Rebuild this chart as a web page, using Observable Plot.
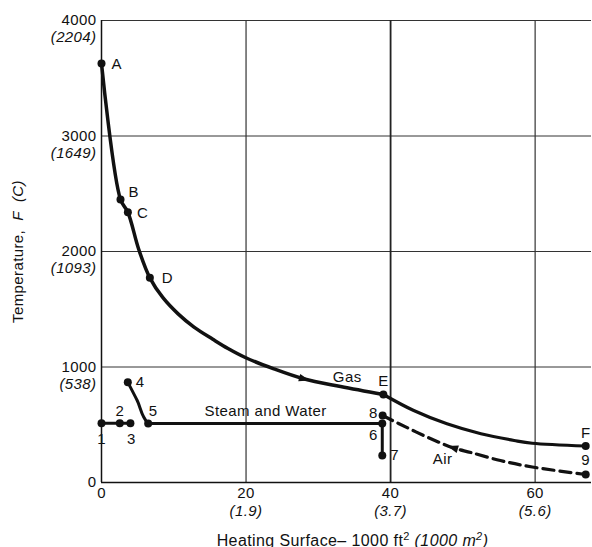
<!DOCTYPE html>
<html><head><meta charset="utf-8">
<script src="https://cdn.jsdelivr.net/npm/d3@7"></script>
<script src="https://cdn.jsdelivr.net/npm/@observablehq/plot@0.6"></script>
<style>body{margin:0;background:#fff}</style>
</head><body><div id="chart"></div>
<script>
// ---- data ----
const gasX1 = [0, 2.63, 3.65, 5.16, 6.69, 8.5, 10.6, 12.8, 15.4, 17.5, 19.97, 23.85, 27.96, 33.08, 39.0];
const gasY1 = [3628, 2450, 2340, 2017, 1772, 1600, 1460, 1345, 1240, 1160, 1080, 984, 898, 831, 762];
const gasX2 = [39.0, 43.2, 47.8, 52.5, 57.1, 59.6, 67.0];
const gasY2 = [762, 623, 508, 422, 364, 340, 316];
const airX = [38.9, 41.1, 45.5, 48.7, 51.1, 55.2, 59.6, 67.0];
const airY = [580, 511, 381, 299, 260, 190, 134, 69];
const feedX = [0, 2.53, 4.0];
const feedY = [513, 513, 513];
const steamX = [3.64, 4.94, 6.46, 38.85];
const steamY = [868, 710, 511, 511];
const dropX = [38.85, 38.85];
const dropY = [511, 234];
const pointNames = ["A","B","C","D","E","F","1","2","3","4","5","6","7","8","9"];
const pointX = [0, 2.63, 3.65, 6.69, 39.0, 67.0, 0, 2.53, 4.0, 3.64, 6.46, 38.85, 38.85, 38.9, 67.0];
const pointY = [3628, 2450, 2340, 1772, 762, 316, 513, 513, 513, 868, 511, 511, 234, 580, 69];
const streamNames = ["Gas", "Steam and Water", "Air"];
const streamX = [34.0, 22.7, 47.2];
const streamY = [909, 615, 205];
const arrowX = [27.96, 48.7];
const arrowY = [898, 299];
const arrowAngle = [105, -73];
const yTicksF = [0, 1000, 2000, 3000, 4000];
const yTickLabelsF = ["0", "1000", "2000", "3000", "4000"];
const yTicksC = [1000, 2000, 3000, 4000];
const yTickLabelsC = ["(538)", "(1093)", "(1649)", "(2204)"];
const xTicks = [0, 20, 40, 60];
const xTickLabelsFt = ["0", "20", "40", "60"];
const xTicksM = [20, 40, 60];
const xTickLabelsM = ["(1.9)", "(3.7)", "(5.6)"];

// ---- label placement (style) ----
const place = {
  A: [10, 1, "start"], B: [8, -7, "start"], C: [9, 1, "start"], D: [12, 0, "start"],
  E: [0, -13, "middle"], F: [0, -13, "middle"],
  "1": [0, 16, "middle"], "2": [0, -12, "middle"], "3": [1, 16, "middle"],
  "4": [8, 0, "start"], "5": [5, -12, "middle"], "6": [-9, 12, "middle"],
  "7": [8, 0, "start"], "8": [-5, -2, "end"], "9": [0, -14, "middle"]
};

const idx = a => d3.range(a.length);
const ink = "#111";
const arrowHead = {
  draw(ctx, size) {
    const r = Math.sqrt(size / Math.PI);
    ctx.moveTo(0, -r * 1.4);
    ctx.lineTo(r * 0.85, r * 1.0);
    ctx.lineTo(-r * 0.85, r * 1.0);
    ctx.closePath();
  }
};

const chart = Plot.plot({
  width: 592, height: 547,
  marginLeft: 101, marginRight: 1, marginTop: 20, marginBottom: 65,
  x: {domain: [0, 67.8], axis: null},
  y: {domain: [0, 4000], axis: null},
  style: {fontFamily: "'Liberation Sans', Arial, sans-serif", fontSize: "15px", letterSpacing: "0.4px", background: "#fff", color: ink},
  marks: [
    Plot.ruleY([1000, 2000, 3000, 4000], {stroke: "#333", strokeWidth: 1}),
    Plot.ruleX([20, 60], {stroke: "#333", strokeWidth: 1.2, y1: 0, y2: 4000}),
    Plot.ruleX([40], {stroke: "#222", strokeWidth: 1.8, y1: 0, y2: 4000}),
    Plot.ruleX([0], {stroke: ink, strokeWidth: 1.5, y1: 0, y2: 4000}),
    Plot.ruleY([0], {stroke: ink, strokeWidth: 1.5}),
    // curves
    Plot.line(idx(gasX1), {x: gasX1, y: gasY1, curve: "catmull-rom", stroke: ink, strokeWidth: 3.5}),
    Plot.line(idx(gasX2), {x: gasX2, y: gasY2, curve: "catmull-rom", stroke: ink, strokeWidth: 3.2}),
    Plot.line(idx(airX), {x: airX, y: airY, curve: "catmull-rom", stroke: ink, strokeWidth: 3.2, strokeDasharray: "11,6"}),
    Plot.line(idx(feedX), {x: feedX, y: feedY, stroke: ink, strokeWidth: 3}),
    Plot.line(idx(steamX), {x: steamX, y: steamY, curve: "monotone-y", stroke: ink, strokeWidth: 3}),
    Plot.line(idx(dropX), {x: dropX, y: dropY, stroke: ink, strokeWidth: 3}),
    Plot.dot(idx(pointX), {x: pointX, y: pointY, r: 4, fill: ink}),
    Plot.dot(idx(arrowX), {x: arrowX, y: arrowY, r: 4.5, fill: ink, symbol: arrowHead, rotate: arrowAngle}),
    // point labels
    ...pointNames.map((n, i) => Plot.text([n], {x: [pointX[i]], y: [pointY[i]], text: d => d,
      dx: place[n][0], dy: place[n][1], textAnchor: place[n][2], fill: ink, fontSize: 15})),
    Plot.text(idx(streamNames), {x: streamX, y: streamY, text: streamNames, fill: ink, fontSize: 15}),
    // tick labels
    Plot.text(idx(yTicksF), {x: 0, y: yTicksF, text: yTickLabelsF, dx: -5, textAnchor: "end", fill: ink, fontSize: 15}),
    Plot.text(idx(yTicksC), {x: 0, y: yTicksC, text: yTickLabelsC, dx: -5, dy: 17, textAnchor: "end", fill: ink, fontSize: 15, fontStyle: "italic"}),
    Plot.text(idx(xTicks), {x: xTicks, y: 0, text: xTickLabelsFt, dy: 11, fill: ink, fontSize: 15}),
    Plot.text(idx(xTicksM), {x: xTicksM, y: 0, text: xTickLabelsM, dy: 29, fill: ink, fontSize: 15, fontStyle: "italic"}),
    // axis titles
    Plot.text(["Temperature, F (C)"], {frameAnchor: "left", text: d => d, rotate: -90, textAnchor: "middle", dx: -83, dy: 0, fill: ink, fontSize: 15}),
    Plot.text(["Heating Surface– 1000 ft² (1000 m²)"], {frameAnchor: "bottom", text: d => d, textAnchor: "middle", dx: 6, dy: 63, fill: ink, fontSize: 16})
  ]
});
document.getElementById("chart").appendChild(chart);

// italic parts of the axis titles
const svg = d3.select(chart);
svg.selectAll("text").filter(function() { return this.textContent === "Temperature, F (C)"; }).each(function() {
  const t = d3.select(this); t.text("");
  t.append("tspan").text("Temperature,\u00a0\u00a0");
  t.append("tspan").attr("font-style", "italic").text("F\u00a0\u00a0(C)");
});
svg.selectAll("text").filter(function() { return this.textContent.startsWith("Heating Surface"); }).each(function() {
  const t = d3.select(this); t.text("");
  t.append("tspan").text("Heating Surface– 1000 ft");
  t.append("tspan").attr("font-size", "11px").attr("dy", "-6").text("2");
  t.append("tspan").attr("dy", "6").text("\u00a0");
  t.append("tspan").attr("font-style", "italic").text("(1000 m");
  t.append("tspan").attr("font-style", "italic").attr("font-size", "11px").attr("dy", "-6").text("2");
  t.append("tspan").attr("font-style", "italic").attr("dy", "6").text(")");
});
</script>
</body></html>
